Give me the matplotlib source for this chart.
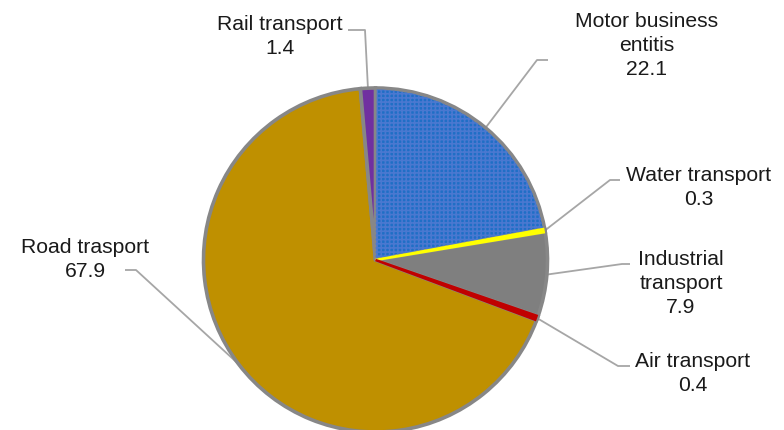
import numpy as np
import matplotlib.pyplot as plt

plt.rcParams['font.family'] = ['Liberation Sans', 'DejaVu Sans']

labels = ["Motor business\nentitis", "Water transport", "Industrial\ntransport",
          "Air transport", "Road trasport", "Rail transport"]
values = [22.1, 0.3, 7.9, 0.4, 67.9, 1.4]
colors = ['#1F6FC6', '#FFFF00', '#7F7F7F', '#C00000', '#BF9000', '#7030A0']

# label layout in pixels (x center, y first line), elbow point, line end
W, H = 784, 430
text_pos = [(647, 20), (699, 174), (681, 258), (693, 360), (85, 246), (280, 23)]
elbows = [(537, 60), (610, 180), (622, 264), (618, 366), (136, 270), (365, 30)]
ends = [(548, 60), (620, 180), (630, 264), (630, 366), (125, 270), (348, 30)]

fig = plt.figure(figsize=(W / 100, H / 100), dpi=100)
ax = fig.add_axes([0, 0, 1, 1])

cx, cy, r = 375.5, H - 260, 172
wedges, _ = ax.pie(values, colors=colors, startangle=90, counterclock=False,
                   center=(cx, cy), radius=r, frame=True,
                   wedgeprops=dict(edgecolor='#878787', linewidth=2.6))
ax.set_xlim(0, W)
ax.set_ylim(0, H)
ax.set_aspect('equal')
ax.axis('off')

# hatch overlay on blue slice
plt.rcParams['hatch.linewidth'] = 1.2
w0 = wedges[0]
ov = plt.matplotlib.patches.Wedge((cx, cy), r - 1.5, w0.theta1 + 0.4, w0.theta2 - 0.4,
                                  facecolor='none', edgecolor='#4A78D0', hatch='++++',
                                  linewidth=0)
ax.add_patch(ov)

# keep tiny slices visible over the gray edges
for i in (1, 3):
    w = wedges[i]
    ax.add_patch(plt.matplotlib.patches.Wedge((cx, cy), r - 1.5, w.theta1, w.theta2,
                                              facecolor=colors[i], edgecolor=colors[i],
                                              linewidth=1.8))

for w, lab, val, tp, el, en in zip(wedges, labels, values, text_pos, elbows, ends):
    ang = np.deg2rad((w.theta1 + w.theta2) / 2)
    sx, sy = cx + r * np.cos(ang), cy + r * np.sin(ang)
    ax.plot([sx, el[0], en[0]], [sy, H - el[1], H - en[1]], color='#A6A6A6', lw=1.3,
            solid_capstyle='butt', zorder=0.5)
    ax.text(tp[0], H - tp[1] + 8, f"{lab}\n{val}", ha='center', va='top',
            fontsize=15.2, linespacing=1.34, color='#1A1A1A')

fig.savefig('out.png', dpi=100)
